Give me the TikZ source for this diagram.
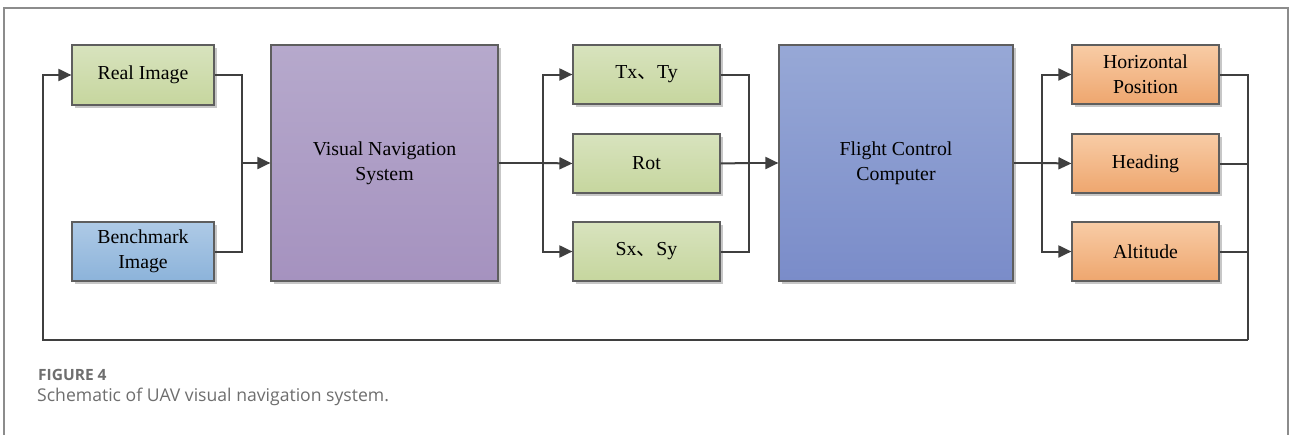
\documentclass[tikz,border=0pt]{standalone}
\usepackage{fontspec}
\setmainfont{Liberation Serif}
\newfontfamily\capfont{Open Sans}
\newfontfamily\cjk{Noto Sans CJK SC}
\usetikzlibrary{arrows.meta,shadows,calc}
\definecolor{frame}{HTML}{8C8C8C}
\definecolor{wire}{HTML}{3F3F3F}
\definecolor{bord}{HTML}{5E5E5E}
\definecolor{gtop}{HTML}{D8E3BE}
\definecolor{gbot}{HTML}{C6D69E}
\definecolor{btop}{HTML}{AECAE6}
\definecolor{bbot}{HTML}{8CB3DA}
\definecolor{ptop}{HTML}{B6A9CC}
\definecolor{pbot}{HTML}{A592BF}
\definecolor{ctop}{HTML}{97A8D6}
\definecolor{cbot}{HTML}{7A8CC9}
\definecolor{otop}{HTML}{F8CCA6}
\definecolor{obot}{HTML}{EEA66E}
\definecolor{captxt}{HTML}{6E6E6E}
\tikzset{
  blk/.style={draw=bord, line width=1.2pt, inner sep=0pt, align=center,
    font=\fontsize{19.8}{25}\selectfont,
    drop shadow={shadow xshift=2.5pt, shadow yshift=-2.5pt, opacity=0.22, fill=black}},
  greenbox/.style={blk, top color=gtop, bottom color=gbot, minimum width=147pt, minimum height=59pt},
  bluebox/.style={blk, top color=btop, bottom color=bbot, minimum width=142pt, minimum height=59pt},
  orangebox/.style={blk, top color=otop, bottom color=obot, minimum width=147pt, minimum height=59pt},
  wireline/.style={draw=wire, line width=2pt},
  arr/.style={wireline, -{Triangle[length=13pt,width=12pt]}},
}
\begin{document}
\begin{tikzpicture}[x=1pt,y=-1pt]
\useasboundingbox (0,0) rectangle (1290,434);
\fill[white] (0,0) rectangle (1290,434);
% outer frame
\draw[frame, line width=1.3pt] (4,440) -- (4,8) -- (1288,8) -- (1288,440);

% blocks
\node[greenbox, minimum width=142pt, minimum height=60pt] (real) at (143,75) {Real Image};
\node[bluebox] (bench) at (143,251.5) {Benchmark\\Image};
\node[blk, top color=ptop, bottom color=pbot, minimum width=227pt, minimum height=236pt] (vns) at (384.5,163) {Visual Navigation\\System};
\node[greenbox] (tx) at (646.5,74.5) {Tx{\cjk 、}Ty};
\node[greenbox] (rot) at (646.5,163.5) {Rot};
\node[greenbox] (sx) at (646.5,251.5) {Sx{\cjk 、}Sy};
\node[blk, top color=ctop, bottom color=cbot, minimum width=234pt, minimum height=236pt] (fcc) at (896,163) {Flight Control\\Computer};
\node[orangebox] (hp) at (1145.5,74.5) {Horizontal\\Position};
\node[orangebox] (hd) at (1145.5,163.5) {Heading};
\node[orangebox] (alt) at (1145.5,251.5) {Altitude};

% junction coordinates
\coordinate (m1) at (242,163);
\coordinate (s1) at (543,163);
\coordinate (m2) at (749,163);
\coordinate (s2) at (1042,163);
\coordinate (rb) at (1248,340);
\coordinate (lb) at (43,340);

% connectors
\draw[wireline] (real.east) -| (m1) |- (bench.east);
\draw[arr] (m1) -- (vns.west);
\draw[wireline] (vns.east) -- (s1);
\draw[arr] (s1) |- (tx.west);
\draw[arr] (s1) -- (rot.west);
\draw[arr] (s1) |- (sx.west);
\draw[wireline] (tx.east) -| (m2) |- (sx.east);
\draw[wireline] (rot.east) -- (m2);
\draw[arr] (m2) -- (fcc.west);
\draw[wireline] (fcc.east) -- (s2);
\draw[arr] (s2) |- (hp.west);
\draw[arr] (s2) -- (hd.west);
\draw[arr] (s2) |- (alt.west);
\draw[wireline] (hp.east) -| (rb);
\draw[wireline] (hd.east) -- (hd.east -| rb);
\draw[wireline] (alt.east) -- (alt.east -| rb);
\draw[arr] (rb) -- (lb) |- (real.west);

% caption
\node[anchor=base west, inner sep=0pt, text=captxt, font=\capfont\bfseries\fontsize{15.5}{17}\selectfont] (figlab) at (38,380.5) {FIGURE 4};
\node[anchor=base west, inner sep=0pt, text=captxt, font=\capfont\fontsize{17.6}{20}\selectfont] (figcap) at (37,401.5) {Schematic of UAV visual navigation system.};
\end{tikzpicture}
\end{document}
